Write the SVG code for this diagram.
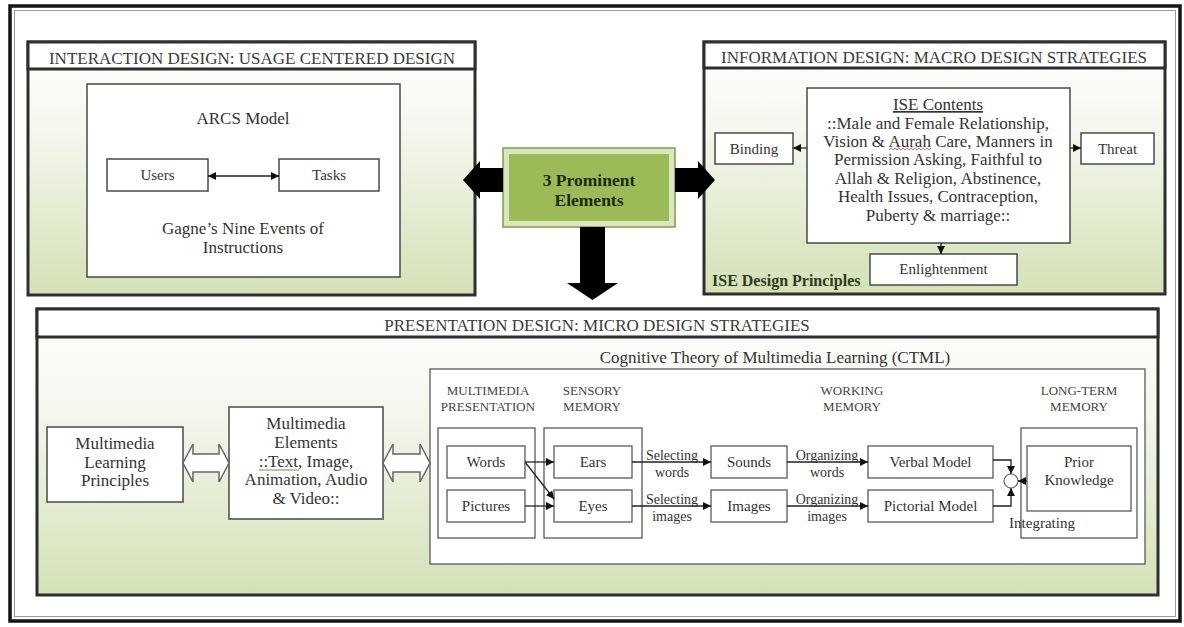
<svg xmlns="http://www.w3.org/2000/svg" width="1184" height="627" viewBox="0 0 1184 627">
<style>
.t{font-family:"Liberation Serif","Times New Roman",serif;fill:#333;text-anchor:middle}
.hd{font-size:17px;fill:#3a3a3a}
.b17{font-size:17px}
.b15{font-size:15px}
.sm{font-size:13px;fill:#444}
.box{fill:#fff;stroke:#4a4a4a;stroke-width:1.5}
.cbox{fill:#fff;stroke:#5a5a5a;stroke-width:1.3}
.panel{stroke:#2e2e2e;stroke-width:3}
.hline{stroke:#2e2e2e;stroke-width:2.5}
.conn{stroke:#222;stroke-width:1.3;fill:none}
.block{fill:#000}
.hollow{fill:#fff;stroke:#666;stroke-width:1.5}
</style>
<defs>
<linearGradient id="pg" x1="0" y1="0" x2="0" y2="1">
<stop offset="0" stop-color="#ffffff"/>
<stop offset="0.35" stop-color="#f4f7ee"/>
<stop offset="1" stop-color="#d3e1b6"/>
</linearGradient>
<marker id="ah" viewBox="0 0 10 10" refX="10" refY="5" markerWidth="8" markerHeight="8" markerUnits="userSpaceOnUse" orient="auto-start-reverse">
<path d="M0,0 L10,5 L0,10 Z" fill="#111"/>
</marker>
</defs>

<rect x="10" y="6" width="1170" height="615" fill="#fff" stroke="#151515" stroke-width="3.5"/>
<rect x="14.5" y="10.5" width="1161" height="606" fill="none" stroke="#9a9a9a" stroke-width="1"/>

<g id="interaction-design">
<rect x="28" y="42" width="447" height="253" fill="url(#pg)" class="panel"/>
<rect x="28" y="42" width="447" height="27" fill="#fff" class="panel"/>
<text class="t hd" x="252" y="64">INTERACTION DESIGN: USAGE CENTERED DESIGN</text>
<rect x="87" y="84" width="313" height="193" class="box"/>
<text class="t b17" x="243" y="124">ARCS Model</text>
<text class="t b17" x="243" y="234">Gagne’s Nine Events of</text>
<text class="t b17" x="243" y="253">Instructions</text>
</g>
<g id="users">
<rect x="107" y="159" width="101" height="32" class="box"/>
<text class="t b15" x="157.5" y="180">Users</text>
</g>
<g id="tasks">
<rect x="279" y="159" width="100" height="32" class="box"/>
<text class="t b15" x="329" y="180">Tasks</text>
</g>

<g id="information-design">
<rect x="704" y="42" width="461" height="252" fill="url(#pg)" class="panel"/>
<rect x="704" y="42" width="461" height="26" fill="#fff" class="panel"/>
<text class="t hd" x="934" y="63">INFORMATION DESIGN: MACRO DESIGN STRATEGIES</text>
<text class="t" x="712" y="286" style="text-anchor:start;font-size:16px;font-weight:bold;fill:#2f3a22">ISE Design Principles</text>
</g>
<g id="ise-contents">
<rect x="807" y="88" width="263" height="155" class="box"/>
<text class="t b17" x="938" y="110" text-decoration="underline">ISE Contents</text>
<text class="t b17" x="938" y="129">::Male and Female Relationship,</text>
<text class="t b17" x="938" y="147">Vision &amp; Aurah Care, Manners in</text>
<text class="t b17" x="938" y="165">Permission Asking, Faithful to</text>
<text class="t b17" x="938" y="184">Allah &amp; Religion, Abstinence,</text>
<text class="t b17" x="938" y="202">Health Issues, Contraception,</text>
<text class="t b17" x="938" y="221">Puberty &amp; marriage::</text>
<path d="M889,150 l2,-2 l2,2 l2,-2 l2,2 l2,-2 l2,2 l2,-2 l2,2 l2,-2 l2,2 l2,-2 l2,2 l2,-2 l2,2 l2,-2 l2,2 l2,-2 l2,2 l2,-2 l2,2 l2,-2" fill="none" stroke="#e06060" stroke-width="0.9"/>
</g>
<g id="binding">
<rect x="715" y="133" width="78" height="31" class="box"/>
<text class="t b15" x="754" y="154">Binding</text>
</g>
<g id="threat">
<rect x="1081" y="133" width="73" height="31" class="box"/>
<text class="t b15" x="1117.5" y="154">Threat</text>
</g>
<g id="enlightenment">
<rect x="870" y="254" width="147" height="31" class="box"/>
<text class="t b15" x="943.5" y="274">Enlightenment</text>
</g>

<g id="prominent-elements">
<rect x="503" y="148" width="172" height="79" fill="#d9e6c0" stroke="#7f9f48" stroke-width="1.5"/>
<rect x="509" y="154" width="160" height="67" fill="#9bbb59"/>
<text class="t" x="589" y="186" style="font-size:17.5px;font-weight:bold;fill:#1c2a0c">3 Prominent</text>
<text class="t" x="589" y="206" style="font-size:17.5px;font-weight:bold;fill:#1c2a0c">Elements</text>
</g>

<g id="presentation-design">
<rect x="37" y="309" width="1121" height="286" fill="url(#pg)" class="panel"/>
<rect x="37" y="309" width="1121" height="28" fill="#fff" class="panel"/>
<text class="t hd" x="597" y="331">PRESENTATION DESIGN: MICRO DESIGN STRATEGIES</text>
</g>
<g id="learning-principles">
<rect x="47" y="427" width="136" height="75" class="box"/>
<text class="t b17" x="115" y="449">Multimedia</text>
<text class="t b17" x="115" y="468">Learning</text>
<text class="t b17" x="115" y="486">Principles</text>
</g>
<g id="multimedia-elements">
<rect x="229" y="407" width="154" height="112" class="box"/>
<text class="t b17" x="306" y="429">Multimedia</text>
<text class="t b17" x="306" y="448">Elements</text>
<text class="t b17" x="306" y="467">::Text, Image,</text>
<text class="t b17" x="306" y="485">Animation, Audio</text>
<text class="t b17" x="306" y="504">&amp; Video::</text>
<line x1="259" y1="470" x2="299" y2="470" stroke="#5c9a4c" stroke-width="1"/>
</g>

<g id="ctml">
<text class="t b17" x="775" y="363">Cognitive Theory of Multimedia Learning (CTML)</text>
<rect x="430" y="369" width="715" height="195" class="cbox"/>
<text class="t sm" x="488" y="395">MULTIMEDIA</text>
<text class="t sm" x="488" y="411">PRESENTATION</text>
<text class="t sm" x="592" y="395">SENSORY</text>
<text class="t sm" x="592" y="411">MEMORY</text>
<text class="t sm" x="852" y="395">WORKING</text>
<text class="t sm" x="852" y="411">MEMORY</text>
<text class="t sm" x="1079" y="395">LONG-TERM</text>
<text class="t sm" x="1079" y="411">MEMORY</text>
</g>
<g id="multimedia-presentation">
<rect x="438" y="428" width="97" height="110" class="cbox"/>
</g>
<g id="sensory-memory">
<rect x="544" y="428" width="98" height="110" class="cbox"/>
</g>
<g id="long-term-memory">
<rect x="1021" y="428" width="116" height="110" class="cbox"/>
<text class="t b15" x="1042" y="528">Integrating</text>
</g>
<g id="words"><rect x="447" y="446" width="78" height="32" class="cbox"/><text class="t b15" x="486" y="467">Words</text></g>
<g id="pictures"><rect x="447" y="490" width="78" height="32" class="cbox"/><text class="t b15" x="486" y="511">Pictures</text></g>
<g id="ears"><rect x="554" y="446" width="78" height="32" class="cbox"/><text class="t b15" x="593" y="467">Ears</text></g>
<g id="eyes"><rect x="554" y="490" width="78" height="32" class="cbox"/><text class="t b15" x="593" y="511">Eyes</text></g>
<g id="sounds"><rect x="711" y="446" width="76" height="32" class="cbox"/><text class="t b15" x="749" y="467">Sounds</text></g>
<g id="images"><rect x="711" y="490" width="76" height="32" class="cbox"/><text class="t b15" x="749" y="511">Images</text></g>
<g id="verbal-model"><rect x="868" y="446" width="125" height="32" class="cbox"/><text class="t b15" x="930.5" y="467">Verbal Model</text></g>
<g id="pictorial-model"><rect x="868" y="490" width="125" height="32" class="cbox"/><text class="t b15" x="930.5" y="511">Pictorial Model</text></g>
<g id="prior-knowledge"><rect x="1027" y="446" width="104" height="65" class="cbox"/><text class="t b15" x="1079" y="467">Prior</text><text class="t b15" x="1079" y="485">Knowledge</text></g>
<g id="integrating-node"><circle cx="1011" cy="481" r="7" fill="#fff" stroke="#666" stroke-width="1.2"/></g>

<g id="connectors">
<line x1="208" y1="176" x2="279" y2="176" class="conn" marker-start="url(#ah)" marker-end="url(#ah)"/>
<line x1="807" y1="148" x2="793" y2="148" class="conn" marker-end="url(#ah)"/>
<line x1="1070" y1="148" x2="1081" y2="148" class="conn" marker-end="url(#ah)"/>
<line x1="941" y1="243" x2="941" y2="254" class="conn" marker-end="url(#ah)"/>
<polygon class="block" points="503,168 480,168 480,161 463,180 480,199 480,192 503,192"/>
<polygon class="block" points="675,168 698,168 698,161 715,180 698,199 698,192 675,192"/>
<polygon class="block" points="580,227 580,283 567,283 592.5,300 618,283 605,283 605,227"/>
<path class="hollow" d="M183,463 L193,444 L193,454 L219,454 L219,444 L229,463 L219,482 L219,472 L193,472 L193,482 Z"/>
<path class="hollow" d="M383,463 L393,444 L393,454 L420,454 L420,444 L430,463 L420,482 L420,472 L393,472 L393,482 Z"/>
<line x1="525" y1="462" x2="554" y2="462" class="conn" marker-end="url(#ah)"/>
<line x1="525" y1="462" x2="554" y2="499" class="conn" marker-end="url(#ah)"/>
<line x1="525" y1="506" x2="554" y2="506" class="conn" marker-end="url(#ah)"/>
<line x1="632" y1="462" x2="711" y2="462" class="conn" marker-end="url(#ah)"/>
<line x1="632" y1="506" x2="711" y2="506" class="conn" marker-end="url(#ah)"/>
<line x1="787" y1="462" x2="868" y2="462" class="conn" marker-end="url(#ah)"/>
<line x1="787" y1="506" x2="868" y2="506" class="conn" marker-end="url(#ah)"/>
<path d="M993,460 H1011 V474" class="conn" marker-end="url(#ah)"/>
<path d="M993,506 H1011 V488" class="conn" marker-end="url(#ah)"/>
<line x1="1027" y1="481" x2="1018" y2="481" class="conn" marker-end="url(#ah)"/>
<text class="t" x="672" y="460" style="font-size:14px">Selecting</text>
<text class="t" x="672" y="477" style="font-size:14px">words</text>
<text class="t" x="672" y="504" style="font-size:14px">Selecting</text>
<text class="t" x="672" y="521" style="font-size:14px">images</text>
<text class="t" x="827" y="460" style="font-size:14px">Organizing</text>
<text class="t" x="827" y="477" style="font-size:14px">words</text>
<text class="t" x="827" y="504" style="font-size:14px">Organizing</text>
<text class="t" x="827" y="521" style="font-size:14px">images</text>
</g>
</svg>
